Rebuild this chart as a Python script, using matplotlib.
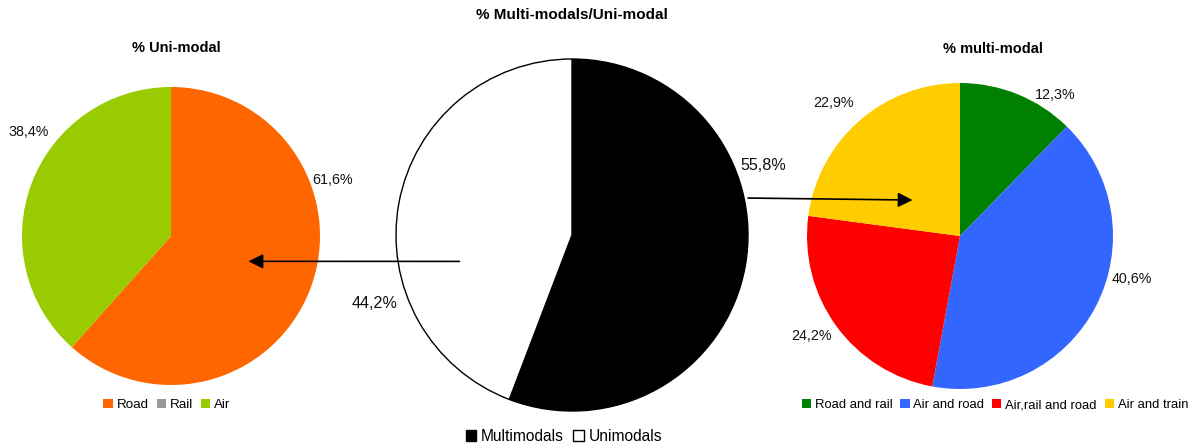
import numpy as np
import matplotlib
matplotlib.use("Agg")
import matplotlib.pyplot as plt

plt.rcParams['font.family'] = ['Liberation Sans', 'DejaVu Sans']

# --- data ---
main_labels = ["Multimodals", "Unimodals"]
main_values = [55.8, 44.2]
main_colors = ["#000000", "#FFFFFF"]

uni_labels = ["Road", "Rail", "Air"]
uni_values = [61.6, 0.0, 38.4]
uni_colors = ["#FF6600", "#999999", "#99CC00"]

multi_labels = ["Road and rail", "Air and road", "Air,rail and road", "Air and train"]
multi_values = [12.3, 40.6, 24.2, 22.9]
multi_colors = ["#008000", "#3366FF", "#FF0000", "#FFCC00"]

# label placement (angle in deg, distance in radii) -- layout only
main_lab_pos = [(19.9, 1.155), (199.3, 1.186)]
uni_lab_pos = [(19.1, 1.15), None, (143.8, 1.18)]
multi_lab_pos = [(56, 1.11), (-14, 1.16), (213.9, 1.17), (133.5, 1.20)]

W, H = 1202, 448
fig = plt.figure(figsize=(W / 100, H / 100), dpi=100, facecolor='white')


def pie_axes(cx, cy, r):
    # cx, cy, r in pixels (y from top)
    return fig.add_axes([(cx - r) / W, (H - cy - r) / H, 2 * r / W, 2 * r / H])


def fmt(v):
    return f"{v:.1f}%".replace('.', ',')


def draw_pie(ax, values, colors, lab_pos, fs, edge=None):
    wedges, _ = ax.pie(values, colors=colors, startangle=90, counterclock=False,
                       wedgeprops=dict(edgecolor=edge, linewidth=1.0) if edge else dict(linewidth=0))
    ax.set_xlim(-1, 1)
    ax.set_ylim(-1, 1)
    ax.set_aspect('equal')
    for v, pos in zip(values, lab_pos):
        if pos is None:
            continue
        a, d = pos
        ax.text(d * np.cos(np.radians(a)), d * np.sin(np.radians(a)), fmt(v),
                ha='center', va='center', fontsize=fs, color='#111111')
    return wedges


ax_l = pie_axes(171, 236, 149)
ax_c = pie_axes(572, 235, 176)
ax_r = pie_axes(960, 236, 153)

w_l = draw_pie(ax_l, uni_values, uni_colors, uni_lab_pos, 10.3)
w_c = draw_pie(ax_c, main_values, main_colors, main_lab_pos, 11.6, edge='black')
w_r = draw_pie(ax_r, multi_values, multi_colors, multi_lab_pos, 10.3)

# titles
fig.text(572 / W, 1 - 15 / H, "% Multi-modals/Uni-modal", ha='center', va='center',
         fontsize=11, fontweight='bold')
fig.text(176 / W, 1 - 48 / H, "% Uni-modal", ha='center', va='center',
         fontsize=10.5, fontweight='bold')
fig.text(993 / W, 1 - 49 / H, "% multi-modal", ha='center', va='center',
         fontsize=10.5, fontweight='bold')

# legends
leg_kw = dict(frameon=False, handlelength=0.7, handleheight=0.7, handletextpad=0.3,
              columnspacing=0.6, borderpad=0, borderaxespad=0)
fig.legend(w_l, uni_labels, loc='center', bbox_to_anchor=(167 / W, 1 - 405 / H),
           ncol=3, fontsize=9.6, **leg_kw)
fig.legend(w_r, multi_labels, loc='center', bbox_to_anchor=(995 / W, 1 - 405 / H),
           ncol=4, fontsize=9.4, **leg_kw)
fig.legend(w_c, main_labels, loc='center', bbox_to_anchor=(564 / W, 1 - 436 / H),
           ncol=2, fontsize=11.2, **leg_kw)

# arrows (right one attached to the right pie so it is drawn on top of it)
arrow = dict(arrowstyle='-|>', color='black', lw=1.2, mutation_scale=22, shrinkA=0, shrinkB=0)
ax_c.annotate('', xy=(0.52, -0.17), xycoords=ax_l.transData,
              xytext=(-0.64, -0.15), textcoords=ax_c.transData, arrowprops=arrow,
              annotation_clip=False)
ax_r.annotate('', xy=(-0.31, 0.235), xycoords=ax_r.transData,
              xytext=(1.0, 0.21), textcoords=ax_c.transData, arrowprops=arrow,
              annotation_clip=False)

fig.savefig("out.png", dpi=100, facecolor='white')
